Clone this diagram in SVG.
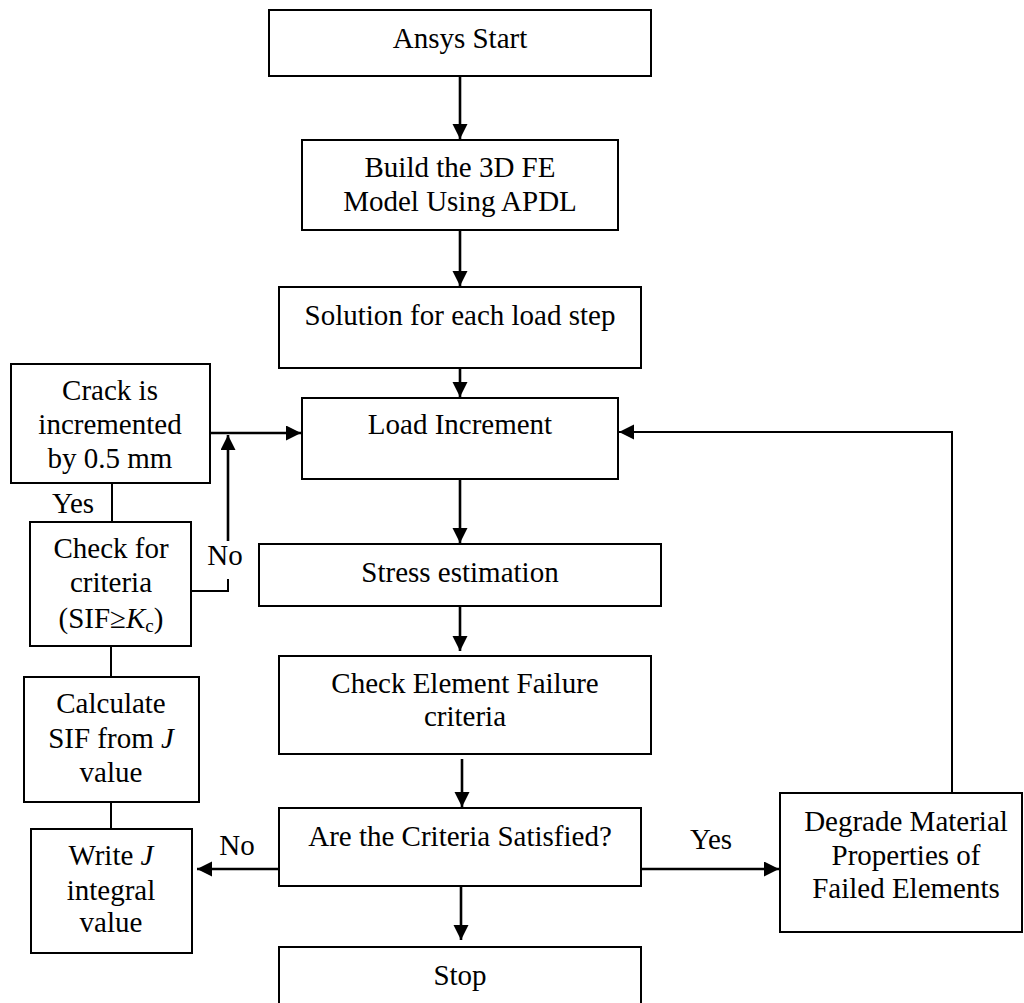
<svg xmlns="http://www.w3.org/2000/svg" width="1024" height="1003" viewBox="0 0 1024 1003">
  <style>
    .box { fill: #fff; stroke: #000; stroke-width: 2; }
    .t { font-family: "Liberation Serif", "Times New Roman", serif; font-size: 29px; fill: #000; text-anchor: middle; }
    .lbl { font-family: "Liberation Serif", "Times New Roman", serif; font-size: 29px; fill: #000; text-anchor: middle; }
    .it { font-style: italic; }
    .flow { fill: none; stroke: #000; stroke-width: 2.6; marker-end: url(#arrow); }
    .link { fill: none; stroke: #000; stroke-width: 2; }
    .linka { fill: none; stroke: #000; stroke-width: 2; marker-end: url(#arrow); }
  </style>
  <defs>
    <marker id="arrow" markerUnits="userSpaceOnUse" markerWidth="16" markerHeight="16" refX="15" refY="7.5" orient="auto">
      <path d="M0,0 L15,7.5 L0,15 Z" fill="#000"/>
    </marker>
  </defs>
  <rect width="1024" height="1003" fill="#fff"/>

  <g id="connectors">
    <path class="flow" d="M460,76 V139"/>
    <path class="flow" d="M460,230 V286"/>
    <path class="flow" d="M460,368 V397"/>
    <path class="flow" d="M460,479 V543"/>
    <path class="flow" d="M460,606 V651"/>
    <path class="flow" d="M462,759 V807"/>
    <path class="flow" d="M461,886 V940"/>
    <path class="flow" d="M279,869 H197"/>
    <path class="flow" d="M641,869 H779"/>
    <path class="linka" d="M952,793 V432 H619"/>
    <path class="flow" d="M210,433 H301"/>
    <path class="link" d="M191,591 H228 V579"/>
    <path class="flow" d="M228,541 V435"/>
    <path class="link" d="M112,483 V522"/>
    <path class="link" d="M111,646 V677"/>
    <path class="link" d="M111,802 V829"/>
    <text class="lbl" x="73" y="513">Yes</text>
    <text class="lbl" x="225" y="565">No</text>
    <text class="lbl" x="237" y="855">No</text>
    <text class="lbl" x="711" y="849">Yes</text>
  </g>

  <g id="ansys-start">
    <rect class="box" x="269" y="10" width="382" height="66"/>
    <text class="t" x="460" y="48">Ansys Start</text>
  </g>
  <g id="build-model">
    <rect class="box" x="302" y="140" width="316" height="90"/>
    <text class="t" x="460" y="177">Build the 3D FE</text>
    <text class="t" x="460" y="211">Model Using APDL</text>
  </g>
  <g id="solution">
    <rect class="box" x="279" y="287" width="362" height="81"/>
    <text class="t" x="460" y="325">Solution for each load step</text>
  </g>
  <g id="load-increment">
    <rect class="box" x="302" y="398" width="316" height="81"/>
    <text class="t" x="460" y="434">Load Increment</text>
  </g>
  <g id="stress-estimation">
    <rect class="box" x="259" y="544" width="402" height="62"/>
    <text class="t" x="460" y="582">Stress estimation</text>
  </g>
  <g id="check-element-failure">
    <rect class="box" x="279" y="656" width="372" height="98"/>
    <text class="t" x="465" y="693">Check Element Failure</text>
    <text class="t" x="465" y="726">criteria</text>
  </g>
  <g id="criteria-satisfied">
    <rect class="box" x="279" y="808" width="362" height="78"/>
    <text class="t" x="460" y="846">Are the Criteria Satisfied?</text>
  </g>
  <g id="stop">
    <rect class="box" x="279" y="947" width="362" height="70"/>
    <text class="t" x="460" y="985">Stop</text>
  </g>
  <g id="degrade-material">
    <rect class="box" x="780" y="793" width="242" height="139"/>
    <text class="t" x="906" y="831">Degrade Material</text>
    <text class="t" x="906" y="865">Properties of</text>
    <text class="t" x="906" y="898">Failed Elements</text>
  </g>
  <g id="crack-increment">
    <rect class="box" x="11" y="364" width="199" height="119"/>
    <text class="t" x="110" y="400">Crack is</text>
    <text class="t" x="110" y="434">incremented</text>
    <text class="t" x="110" y="468">by 0.5 mm</text>
  </g>
  <g id="check-sif">
    <rect class="box" x="30" y="522" width="161" height="124"/>
    <text class="t" x="111" y="558">Check for</text>
    <text class="t" x="111" y="592">criteria</text>
    <text class="t" x="111" y="628">(SIF≥<tspan class="it">K</tspan><tspan font-size="19" dy="4">c</tspan><tspan dy="-4">)</tspan></text>
  </g>
  <g id="calculate-sif">
    <rect class="box" x="24" y="677" width="175" height="125"/>
    <text class="t" x="111" y="713">Calculate</text>
    <text class="t" x="111" y="748">SIF from <tspan class="it">J</tspan></text>
    <text class="t" x="111" y="782">value</text>
  </g>
  <g id="write-j">
    <rect class="box" x="31" y="829" width="161" height="124"/>
    <text class="t" x="111" y="865">Write <tspan class="it">J</tspan></text>
    <text class="t" x="111" y="900">integral</text>
    <text class="t" x="111" y="932">value</text>
  </g>
</svg>
